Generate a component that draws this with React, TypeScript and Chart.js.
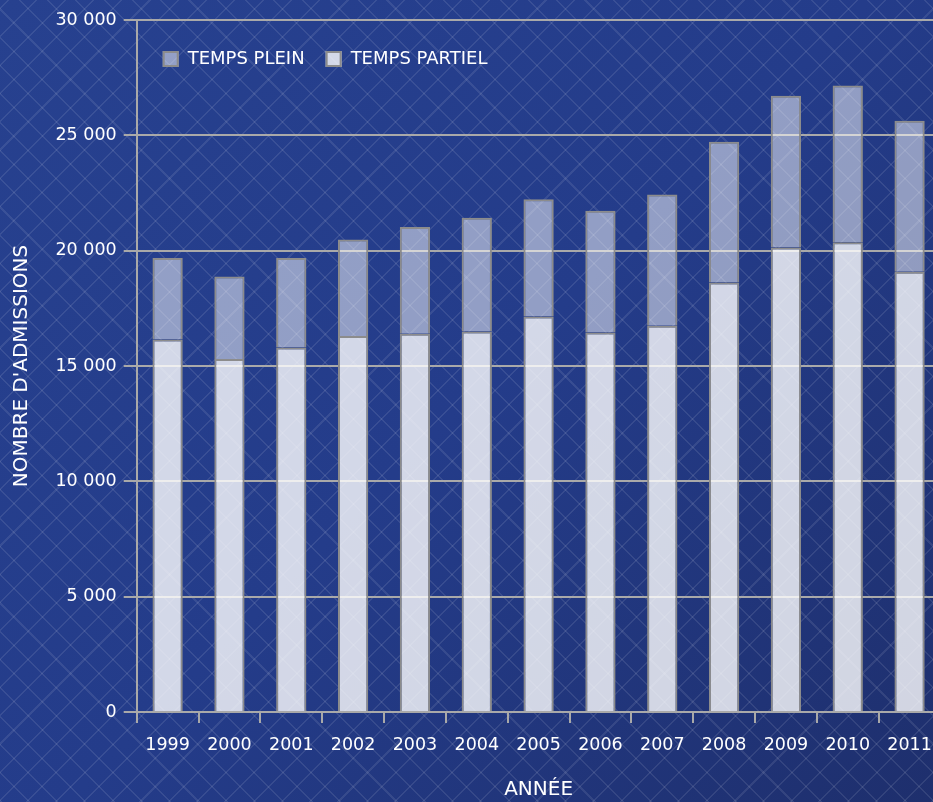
import React, { useEffect, useRef } from "react";
import { Chart, registerables } from "chart.js";

Chart.register(...registerables);

const categories = ["1999", "2000", "2001", "2002", "2003", "2004", "2005", "2006", "2007", "2008", "2009", "2010", "2011"];
const tempsPartiel = [16150, 15300, 15800, 16300, 16400, 16500, 17150, 16450, 16750, 18620, 20140, 20360, 19090];
const tempsPlein = [3530, 3580, 3880, 4180, 4630, 4930, 5080, 5280, 5680, 6100, 6580, 6800, 6540];
const yTicks = [0, 5000, 10000, 15000, 20000, 25000, 30000];
const labelPlein = "TEMPS PLEIN";
const labelPartiel = "TEMPS PARTIEL";
const yTitle = "NOMBRE D'ADMISSIONS";
const xTitle = "ANNÉE";

const fmt = (v: number) => String(v).replace(/\B(?=(\d{3})+(?!\d))/g, " ");

const insideLegend = {
  id: "insideLegend",
  afterDraw(chart: any) {
    const { ctx, chartArea } = chart;
    const ds = [...chart.data.datasets].reverse();
    ctx.save();
    ctx.font = "18px 'DejaVu Sans', sans-serif";
    ctx.textBaseline = "middle";
    ctx.textAlign = "left";
    let x = chartArea.left + 26;
    const y = chartArea.top + 31;
    ds.forEach((d: any) => {
      ctx.fillStyle = d.backgroundColor;
      ctx.fillRect(x, y, 16, 16);
      ctx.strokeStyle = d.borderColor;
      ctx.lineWidth = 2;
      ctx.strokeRect(x + 1, y + 1, 14, 14);
      ctx.fillStyle = "#ffffff";
      const tx = x + 16 + 9;
      ctx.fillText(d.label, tx, y + 8.5);
      x = tx + ctx.measureText(d.label).width + 21;
    });
    ctx.restore();
  },
};

export default function App() {
  const ref = useRef<HTMLCanvasElement | null>(null);

  useEffect(() => {
    if (!ref.current) return;
    Chart.defaults.font.family = "'DejaVu Sans', sans-serif";
    const gridColor = "#a9a9a9";
    const chart = new Chart(ref.current, {
      type: "bar",
      data: {
        labels: categories,
        datasets: [
          {
            label: labelPartiel,
            data: tempsPartiel,
            backgroundColor: "rgba(255,255,255,0.8)",
            borderColor: "#8c8c8c",
            borderWidth: 2,
            barPercentage: 0.49,
            categoryPercentage: 1,
          },
          {
            label: labelPlein,
            data: tempsPlein,
            backgroundColor: "rgba(255,255,255,0.5)",
            borderColor: "#8c8c8c",
            borderWidth: 2,
            barPercentage: 0.49,
            categoryPercentage: 1,
          },
        ],
      },
      plugins: [insideLegend],
      options: {
        responsive: false,
        animation: false,
        layout: { padding: { top: 20, right: 19.5, left: 0, bottom: 0 } },
        plugins: {
          tooltip: { enabled: false },
          legend: { display: false },
        },
        scales: {
          x: {
            stacked: true,
            afterFit: (s: any) => {
              s.height = 90;
            },
            grid: {
              display: true,
              drawOnChartArea: false,
              drawTicks: true,
              tickLength: 11,
              color: gridColor,
              lineWidth: 2,
            },
            border: { display: true, color: gridColor, width: 2 },
            ticks: { color: "#ffffff", font: { size: 17.5 }, padding: 12, maxRotation: 0 },
            title: {
              display: true,
              text: xTitle,
              color: "#ffffff",
              font: { size: 20 },
              padding: { top: 0, bottom: 0 },
            },
          },
          y: {
            stacked: true,
            min: 0,
            max: 30000,
            afterFit: (s: any) => {
              s.width = 136.7;
            },
            afterBuildTicks: (s: any) => {
              s.ticks = yTicks.map((v) => ({ value: v }));
            },
            grid: {
              color: gridColor,
              lineWidth: 2,
              drawTicks: true,
              tickLength: 13,
            },
            border: { display: true, color: gridColor, width: 2 },
            ticks: {
              color: "#ffffff",
              font: { size: 17.5 },
              padding: 7,
              callback: (v: any) => fmt(Number(v)),
            },
            title: {
              display: true,
              text: yTitle,
              color: "#ffffff",
              font: { size: 20 },
              padding: { top: 10, bottom: 0 },
            },
          },
        },
      },
    });
    return () => chart.destroy();
  }, []);

  return (
    <div
      style={{
        position: "fixed",
        left: 0,
        top: 0,
        width: 933,
        height: 802,
        overflow: "hidden",
        backgroundColor: "#233b88",
        backgroundImage:
          "repeating-linear-gradient(45deg, rgba(255,255,255,0.09) 0px, rgba(255,255,255,0.09) 1.5px, transparent 1.5px, transparent 20px)," +
          "repeating-linear-gradient(-45deg, rgba(255,255,255,0.09) 0px, rgba(255,255,255,0.09) 1.5px, transparent 1.5px, transparent 20px)," +
          "linear-gradient(135deg, #27418f 0%, #243c8a 50%, #1e2f6d 100%)",
      }}
    >
      <canvas ref={ref} width={960} height={802} style={{ display: "block" }} />
    </div>
  );
}
